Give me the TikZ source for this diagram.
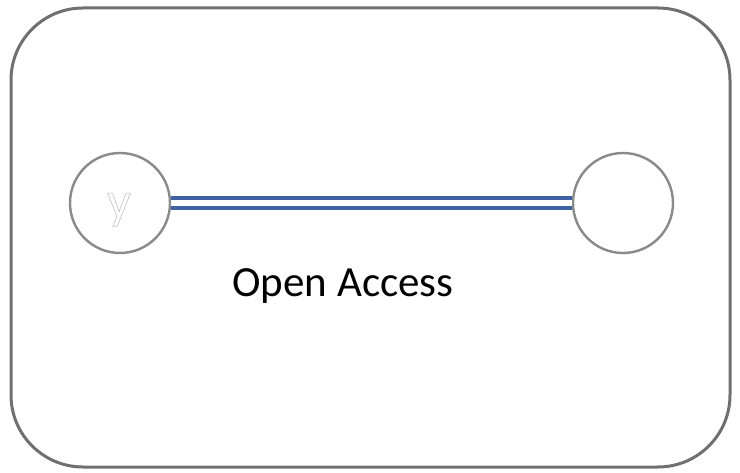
\documentclass[tikz,border=0pt]{standalone}
\usepackage{fontspec}
\setmainfont{Carlito}
\definecolor{framegray}{HTML}{707070}
\definecolor{circgray}{HTML}{8A8A8A}
\definecolor{linkblue}{HTML}{4061A3}
\tikzset{
  frame/.style={draw=framegray, line width=3pt, rounded corners=72pt},
  endpoint/.style={circle, draw=circgray, line width=2.4pt, minimum size=100pt, inner sep=0pt, fill=white},
  link/.style={draw=linkblue, line width=4pt, double=white, double distance=6pt},
  lbl/.style={font=\fontsize{43}{48}\selectfont, text=black},
}
\begin{document}
\begin{tikzpicture}[x=1pt,y=-1pt]
\useasboundingbox (0,0) rectangle (740,473);
\draw[frame] (11,8) rectangle (730,467);
\node[endpoint] (L) at (120,203) {};
\node[endpoint] (R) at (623,203) {};
\draw[link] (L.east) -- (R.west);
\node[lbl] (t) at (343,286) {Open Access};
\node[font=\fontsize{52}{56}\selectfont, text=gray!50, anchor=base, inner sep=0pt] (y) at (119,218)
  {\special{pdf:code 1 Tr 0.6 w}y\special{pdf:code 0 Tr}};
\end{tikzpicture}
\end{document}
